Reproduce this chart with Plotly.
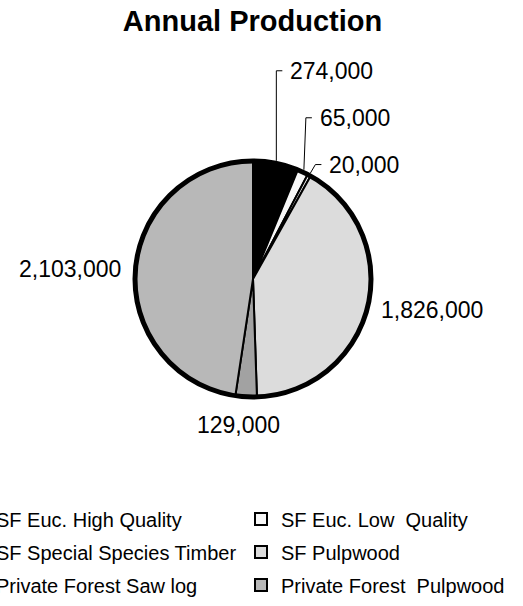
import math
import plotly.graph_objects as go

# ---------------- data ----------------
title = "Annual Production"
categories = [
    "SF Euc. High Quality",
    "SF Euc. Low  Quality",
    "SF Special Species Timber",
    "SF Pulpwood",
    "Private Forest Saw log",
    "Private Forest  Pulpwood",
]
values = [274000, 65000, 20000, 1826000, 129000, 2103000]
colors = ["#000000", "#f8f8f8", "#f0f0f0", "#dcdcdc", "#a2a2a2", "#b8b8b8"]

# ---------------- layout / style ----------------
W, H = 523, 606
CX, CY, R = 253, 279, 118          # pie centre and radius (px)
RING = 5                           # outer ring width (px)
R_EDGE = R + RING / 2
FONT = "Liberation Sans, Arial, sans-serif"
# label placement style per slice: ("leader", rise, lean) or ("radial", dist, nudge_x)
label_style = [("leader", 90, 0), ("leader", 52, 2), ("leader", 8.5, 5),
               ("radial", 9, 0), ("radial", 26, -6), ("radial", 10, 0)]
TICK, GAP = 6, 6


def px(x):
    return x / W


def py(y):
    return 1 - y / H


fig = go.Figure()
fig.add_trace(go.Pie(
    labels=categories, values=values, sort=False, direction="clockwise", rotation=0,
    marker=dict(colors=colors, line=dict(color="#000000", width=2)),
    textinfo="none", showlegend=False,
    domain=dict(x=[px(CX - R), px(CX + R)], y=[py(CY + R), py(CY - R)]),
))

# legend carriers (two columns)
for i, (name, col) in enumerate(zip(categories, colors)):
    fig.add_trace(go.Scatter(
        x=[None], y=[None], mode="markers", name=name.replace("  ", " \u00a0"),
        marker=dict(symbol="square", size=12, color=col, line=dict(color="#000000", width=2)),
        legend="legend" if i % 2 == 0 else "legend2", legendgroup=f"g{i}",
        showlegend=True, hoverinfo="skip",
    ))

# labels computed from slice angles
total = sum(values)
annotations = []
shapes = [dict(type="circle", xref="paper", yref="paper",
               x0=px(CX - R), x1=px(CX + R), y0=py(CY + R), y1=py(CY - R),
               line=dict(color="#000000", width=RING), layer="above")]
cum = 0
for v, style in zip(values, label_style):
    mid = (cum + v / 2) / total * 2 * math.pi
    cum += v
    s, c = math.sin(mid), math.cos(mid)
    ex, ey = CX + R_EDGE * s, CY - R_EDGE * c
    txt = f"{v:,}"
    if style[0] == "leader":
        _, rise, lean = style
        tx, ty = ex + lean, ey - rise
        kx = tx + TICK
        shapes.append(dict(type="path", xref="paper", yref="paper",
                           path=f"M {px(ex)},{py(ey)} L {px(tx)},{py(ty)} L {px(kx)},{py(ty)}",
                           line=dict(color="#000000", width=1)))
        annotations.append(dict(x=px(kx + GAP), y=py(ty), xref="paper", yref="paper",
                                text=txt, showarrow=False, xanchor="left", yanchor="middle",
                                font=dict(family=FONT, size=23, color="#000000")))
    else:
        _, dist, nudge = style
        ax, ay = ex + dist * s + nudge, ey - dist * c
        xa = "left" if s > 0.3 else ("right" if s < -0.3 else "center")
        annotations.append(dict(x=px(ax), y=py(ay), xref="paper", yref="paper",
                                text=txt, showarrow=False, xanchor=xa, yanchor="middle",
                                font=dict(family=FONT, size=23, color="#000000")))

legend_common = dict(orientation="v", yanchor="top", xanchor="left", y=py(499.5),
                     traceorder="grouped", tracegroupgap=4, borderwidth=0,
                     bgcolor="rgba(0,0,0,0)",
                     font=dict(family=FONT, size=20, color="#000000"))

fig.update_layout(
    width=W, height=H,
    margin=dict(l=0, r=0, t=0, b=0, autoexpand=False),
    paper_bgcolor="#ffffff", plot_bgcolor="#ffffff",
    title=dict(text=title, x=px(252.5), xanchor="center", y=py(21), yanchor="middle",
               xref="container", yref="container",
               font=dict(family=FONT, size=29, color="#000000", weight="bold")),
    xaxis=dict(visible=False), yaxis=dict(visible=False),
    legend=dict(x=px(-44), **legend_common),
    legend2=dict(x=px(241), **legend_common),
    annotations=annotations, shapes=shapes,
    showlegend=True,
)

fig.write_html("out.html")
